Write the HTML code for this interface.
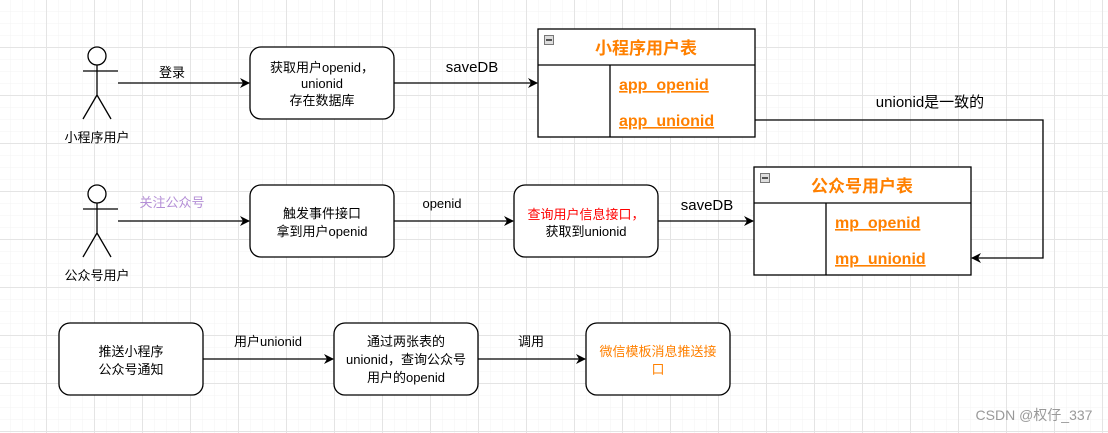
<!DOCTYPE html>
<html><head><meta charset="utf-8"><style>
html,body{margin:0;padding:0;background:#fff;}
svg{display:block;font-family:"Liberation Sans","Noto Sans CJK SC",sans-serif;}
</style></head><body>
<svg width="1108" height="433" viewBox="0 0 1108 433" xmlns="http://www.w3.org/2000/svg">
<defs>
<pattern id="g" x="10" y="11" width="12" height="12" patternUnits="userSpaceOnUse">
<path d="M0 0H12M0 0V12" stroke="#f3f3f3" stroke-width="1" fill="none"/>
</pattern>
<pattern id="G" x="46" y="47" width="48" height="48" patternUnits="userSpaceOnUse">
<path d="M0 0.5H48M0.5 0V48" stroke="#e4e4e4" stroke-width="1" fill="none"/>
</pattern>
<marker id="a" markerWidth="10" markerHeight="10" refX="9" refY="5" orient="auto" markerUnits="userSpaceOnUse">
<path d="M0 0L10 5L0 10L3 5Z" fill="#000"/>
</marker>
</defs>
<rect width="1108" height="433" fill="url(#g)"/>
<rect width="1108" height="433" fill="url(#G)"/>
<g stroke="#000" stroke-width="1.3" fill="none">
<circle cx="97" cy="56" r="9" fill="#fff"/>
<path d="M97 65V95M83 71H118M97 95L83 119M97 95L111 119"/>
<circle cx="97" cy="194" r="9" fill="#fff"/>
<path d="M97 203V233M83 209H118M97 233L83 257M97 233L111 257"/>
<rect x="250" y="47" width="144" height="72" rx="11" fill="#fff"/>
<rect x="250" y="185" width="144" height="72" rx="11" fill="#fff"/>
<rect x="514" y="185" width="144" height="72" rx="11" fill="#fff"/>
<rect x="59" y="323" width="144" height="72" rx="11" fill="#fff"/>
<rect x="334" y="323" width="144" height="72" rx="11" fill="#fff"/>
<rect x="586" y="323" width="144" height="72" rx="11" fill="#fff"/>
<rect x="538" y="29" width="217" height="108" fill="#fff"/>
<path d="M538 65H755M610 65V137"/>
<rect x="754" y="167" width="217" height="108" fill="#fff"/>
<path d="M754 203H971M826 203V275"/>
<path d="M118 83H249" marker-end="url(#a)"/>
<path d="M394 83H537" marker-end="url(#a)"/>
<path d="M118 221H249" marker-end="url(#a)"/>
<path d="M394 221H513" marker-end="url(#a)"/>
<path d="M658 221H753" marker-end="url(#a)"/>
<path d="M755 120H1043V258H972" marker-end="url(#a)"/>
<path d="M203 359H333" marker-end="url(#a)"/>
<path d="M478 359H585" marker-end="url(#a)"/>
</g>
<g stroke="#777" stroke-width="1" fill="#ddd">
<rect x="544.5" y="35.5" width="9" height="9"/>
<rect x="760.5" y="173.5" width="9" height="9"/>
</g>
<path d="M546 40H552M762 178H768" stroke="#000" stroke-width="1.2"/>
<g font-size="13" fill="#000" text-anchor="middle">
<text x="97" y="142">小程序用户</text>
<text x="97" y="280">公众号用户</text>
<text x="172" y="77">登录</text>
<text x="172" y="207" fill="#b48fd6">关注公众号</text>
<text x="322" y="72">获取用户openid，</text>
<text x="322" y="88">unionid</text>
<text x="322" y="105">存在数据库</text>
<text x="322" y="218">触发事件接口</text>
<text x="322" y="236">拿到用户openid</text>
<text x="442" y="208">openid</text>
<text x="586" y="219" fill="#ff0000">查询用户信息接口，</text>
<text x="586" y="236">获取到unionid</text>
<text x="131" y="356">推送小程序</text>
<text x="131" y="374">公众号通知</text>
<text x="268" y="346">用户unionid</text>
<text x="406" y="346">通过两张表的</text>
<text x="406" y="364">unionid，查询公众号</text>
<text x="406" y="382">用户的openid</text>
<text x="531" y="346">调用</text>
<text x="658" y="356" fill="#ff8000">微信模板消息推送接</text>
<text x="658" y="374" fill="#ff8000">口</text>
</g>
<g font-size="15" fill="#000" text-anchor="middle">
<text x="472" y="72">saveDB</text>
<text x="707" y="210">saveDB</text>
<text x="930" y="107">unionid是一致的</text>
</g>
<g font-weight="bold" fill="#ff8000">
<text x="646" y="54" font-size="17" text-anchor="middle">小程序用户表</text>
<text x="862" y="192" font-size="17" text-anchor="middle">公众号用户表</text>
<g font-size="16" text-decoration="underline">
<text x="619" y="90">app_openid</text>
<text x="619" y="126">app_unionid</text>
<text x="835" y="228">mp_openid</text>
<text x="835" y="264">mp_unionid</text>
</g>
</g>
<text x="1034" y="420" font-size="14" fill="#999" text-anchor="middle">CSDN @权仔_337</text>
</svg>
</body></html>
